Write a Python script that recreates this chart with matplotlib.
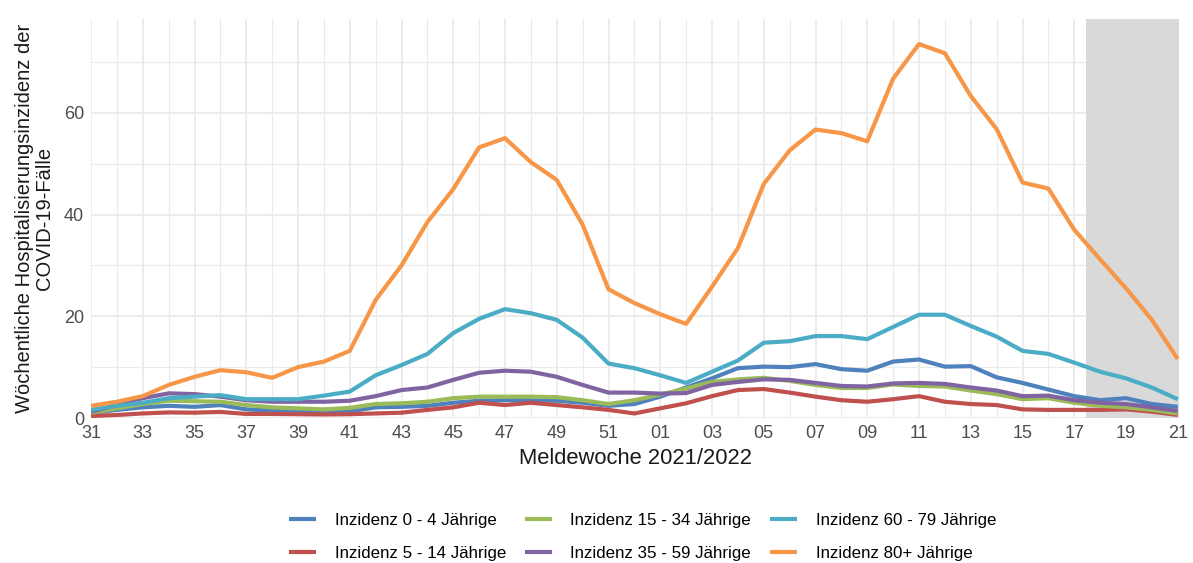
import matplotlib.pyplot as plt
from matplotlib.ticker import MultipleLocator

plt.rcParams['font.family'] = ['Liberation Sans', 'DejaVu Sans']

weeks = [str(w) for w in range(31, 53)] + ['%02d' % w for w in range(1, 22)]

inz_0_4 = [1.0, 1.6, 2.1, 2.4, 2.2, 2.55, 1.7, 1.45, 1.4, 1.25, 1.3,
           2.1, 2.2, 2.4, 3.0, 3.4, 3.5, 3.5, 3.4, 3.0, 2.4, 2.75,
           4.2, 6.0, 7.8, 9.8, 10.1, 10.0, 10.6, 9.6, 9.3, 11.1, 11.5,
           10.1, 10.2, 8.0, 6.9, 5.6, 4.3, 3.5, 3.9, 2.75, 2.2]
inz_5_14 = [0.4, 0.6, 0.9, 1.1, 1.05, 1.2, 0.8, 0.8, 0.75, 0.7, 0.75,
            0.9, 1.05, 1.6, 2.1, 3.0, 2.55, 3.0, 2.55, 2.1, 1.6, 0.9,
            1.9, 2.9, 4.3, 5.5, 5.7, 5.0, 4.2, 3.5, 3.2, 3.7, 4.3,
            3.2, 2.75, 2.55, 1.7, 1.6, 1.6, 1.6, 1.7, 1.25, 0.6]
inz_15_34 = [1.05, 1.9, 2.75, 3.4, 3.3, 3.2, 2.55, 2.1, 1.9, 1.7, 2.0,
             2.75, 2.9, 3.2, 3.9, 4.2, 4.2, 4.2, 4.1, 3.5, 2.75, 3.5,
             4.6, 5.8, 7.1, 7.6, 7.9, 7.3, 6.5, 5.9, 5.9, 6.6, 6.3,
             6.2, 5.4, 4.7, 3.7, 3.9, 3.0, 2.4, 2.1, 1.6, 0.9]
inz_35_59 = [1.25, 2.55, 3.9, 4.85, 4.7, 4.2, 3.5, 3.2, 3.2, 3.2, 3.4,
             4.3, 5.5, 6.0, 7.5, 8.9, 9.3, 9.1, 8.1, 6.5, 5.0, 5.0,
             4.8, 4.9, 6.5, 7.1, 7.6, 7.5, 6.9, 6.3, 6.2, 6.8, 6.9,
             6.7, 6.0, 5.4, 4.3, 4.4, 3.5, 3.0, 2.75, 2.1, 1.4]
inz_60_79 = [1.6, 2.4, 3.0, 3.9, 4.2, 4.5, 3.7, 3.7, 3.7, 4.4, 5.2,
             8.4, 10.4, 12.6, 16.7, 19.5, 21.4, 20.6, 19.3, 15.8, 10.7, 9.8,
             8.4, 6.9, 9.1, 11.3, 14.8, 15.1, 16.1, 16.1, 15.5, 17.9, 20.3,
             20.3, 18.1, 16.0, 13.2, 12.6, 10.9, 9.1, 7.8, 6.0, 3.7]
inz_80 = [2.4, 3.2, 4.3, 6.5, 8.1, 9.4, 9.0, 7.9, 10.0, 11.1, 13.2,
          23.2, 30.0, 38.5, 45.0, 53.2, 55.0, 50.3, 46.8, 38.0, 25.3, 22.6,
          20.4, 18.5, 25.8, 33.4, 46.0, 52.6, 56.7, 56.0, 54.4, 66.7, 73.5,
          71.7, 63.3, 56.8, 46.3, 45.1, 37.0, 31.2, 25.5, 19.3, 11.6]

series = [
    ('Inzidenz 0 - 4 Jährige', inz_0_4, '#4f81bd'),
    ('Inzidenz 5 - 14 Jährige', inz_5_14, '#c0504d'),
    ('Inzidenz 15 - 34 Jährige', inz_15_34, '#9bbb59'),
    ('Inzidenz 35 - 59 Jährige', inz_35_59, '#8064a2'),
    ('Inzidenz 60 - 79 Jährige', inz_60_79, '#4bacc6'),
    ('Inzidenz 80+ Jährige', inz_80, '#f79646'),
]

fig = plt.figure(figsize=(11.93, 5.63), dpi=100)
ax = fig.add_axes([0.0763, 0.2575, 0.912, 0.7085])

x = list(range(len(weeks)))
for label, vals, col in series:
    ax.plot(x, vals, color=col, lw=3, label=label, zorder=3, solid_capstyle='butt')

# noch unvollstaendige Meldewochen
ax.axvspan(38.47, 42.05, color='#d9d9d9', lw=0, zorder=2)

ax.set_xlim(0, 42.05)
ax.set_ylim(0, 78.4)
ax.set_xticks(x[::2])
ax.set_xticklabels(weeks[::2])
ax.xaxis.set_minor_locator(MultipleLocator(1))
ax.yaxis.set_major_locator(MultipleLocator(20))
ax.yaxis.set_minor_locator(MultipleLocator(10))
ax.grid(which='major', color='#ebebeb', lw=1.3, zorder=0)
ax.grid(which='minor', color='#ebebeb', lw=0.8, zorder=0)
ax.set_axisbelow(True)
for s in ax.spines.values():
    s.set_visible(False)
ax.tick_params(which='both', length=0, labelsize=13, labelcolor='#4d4d4d', pad=5)

ax.set_xlabel('Meldewoche 2021/2022', fontsize=15.8, color='#1a1a1a', labelpad=4)
ax.set_ylabel('Wöchentliche Hospitalisierungsinzidenz der\nCOVID-19-Fälle',
              fontsize=14.5, color='#1a1a1a', labelpad=7, linespacing=1.05)

fig.legend(loc='center', bbox_to_anchor=(0.5385, 0.0465), ncol=3, frameon=False,
           fontsize=12.2, handlelength=1.6, columnspacing=1.1, labelspacing=1.05,
           handletextpad=1.1)

fig.savefig('out.png', dpi=100)
